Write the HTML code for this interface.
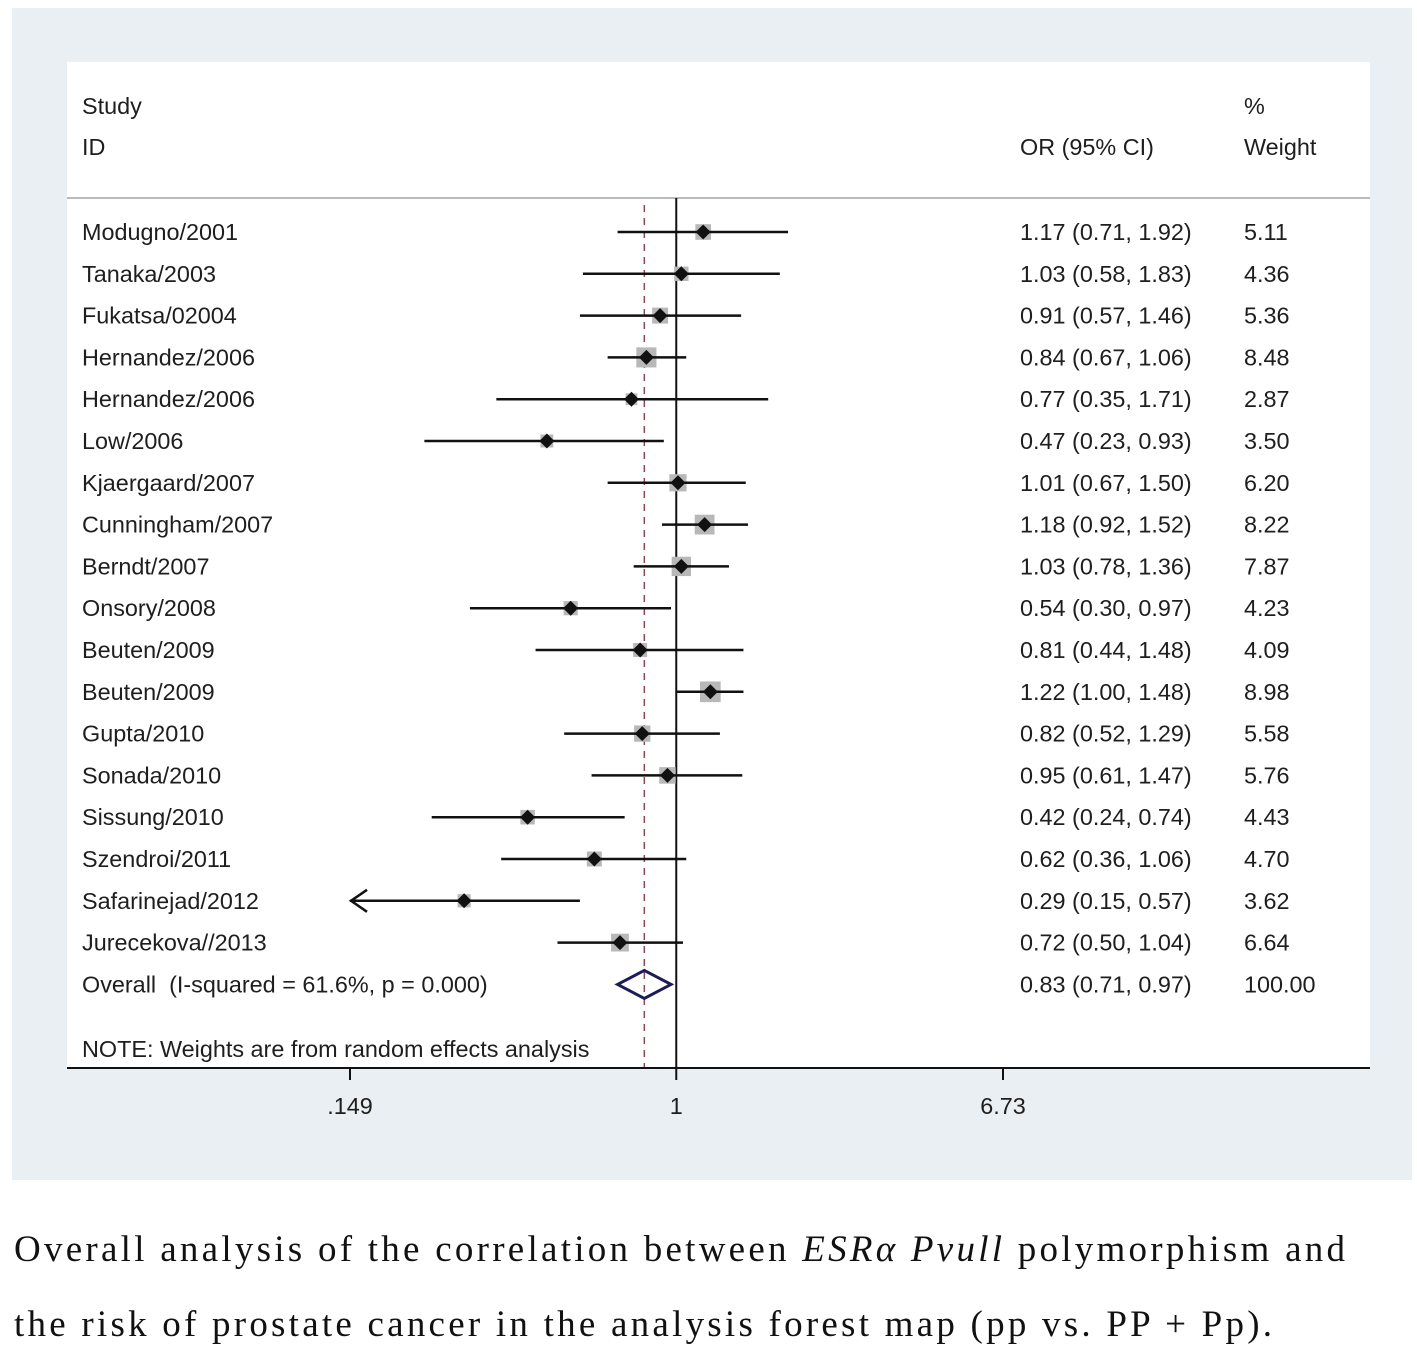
<!DOCTYPE html>
<html><head><meta charset="utf-8"><style>
html,body{margin:0;padding:0;background:#fff}
svg{display:block}
text{font-family:"Liberation Sans",Arial,sans-serif;font-size:23.4px;fill:#1e1e1e}
.cap{font-family:"Liberation Serif","Times New Roman",serif;font-size:37px;fill:#111}
</style></head><body>
<svg id="chart" width="1417" height="1357" viewBox="0 0 1417 1357">
<rect x="12" y="8" width="1400" height="1172" fill="#e9eff2"/>
<rect x="67" y="62" width="1303" height="1006" fill="#fff"/>
<text x="82" y="114">Study</text>
<text x="82" y="155">ID</text>
<text x="1020" y="155">OR (95% CI)</text>
<text x="1244" y="114">%</text>
<text x="1244" y="155">Weight</text>
<line x1="67" y1="198" x2="1370" y2="198" stroke="#bbb" stroke-width="2"/>
<g id="marks"></g>
<line x1="67" y1="1068" x2="1370" y2="1068" stroke="#111" stroke-width="2"/>
<g id="ticks"></g>
<text x="82" y="1057">NOTE: Weights are from random effects analysis</text>
<text class="cap" x="14" y="1261" textLength="1331" lengthAdjust="spacing">Overall analysis of the correlation between <tspan font-style="italic">ESRα Pvull</tspan> polymorphism and</text>
<text class="cap" x="14" y="1336" textLength="1258" lengthAdjust="spacing">the risk of prostate cancer in the analysis forest map (pp vs. PP + Pp).</text>
</svg>
<script>
const studies=["Modugno/2001","Tanaka/2003","Fukatsa/02004","Hernandez/2006","Hernandez/2006","Low/2006","Kjaergaard/2007","Cunningham/2007","Berndt/2007","Onsory/2008","Beuten/2009","Beuten/2009","Gupta/2010","Sonada/2010","Sissung/2010","Szendroi/2011","Safarinejad/2012","Jurecekova//2013"];
const orVals=[1.17,1.03,0.91,0.84,0.77,0.47,1.01,1.18,1.03,0.54,0.81,1.22,0.82,0.95,0.42,0.62,0.29,0.72];
const lowVals=[0.71,0.58,0.57,0.67,0.35,0.23,0.67,0.92,0.78,0.30,0.44,1.00,0.52,0.61,0.24,0.36,0.15,0.50];
const highVals=[1.92,1.83,1.46,1.06,1.71,0.93,1.50,1.52,1.36,0.97,1.48,1.48,1.29,1.47,0.74,1.06,0.57,1.04];
const weights=[5.11,4.36,5.36,8.48,2.87,3.50,6.20,8.22,7.87,4.23,4.09,8.98,5.58,5.76,4.43,4.70,3.62,6.64];
const overall=[0.83,0.71,0.97,100.00];
const tickVals=[0.149,1,6.73];
const tickLabels=[".149","1","6.73"];
const NS="http://www.w3.org/2000/svg";
const xMin=0.149,xMax=6.73,pxMin=350,pxMax=1003;
function xs(v){return pxMin+(Math.log(v)-Math.log(xMin))/(Math.log(xMax)-Math.log(xMin))*(pxMax-pxMin);}
function ys(i){return 232+i*41.8;}
function mk(tag,at,parent){const e=document.createElementNS(NS,tag);for(const k in at)e.setAttribute(k,at[k]);parent.appendChild(e);return e;}
const g=document.getElementById('marks');
const svg=document.getElementById('chart');
let l=mk('line',{x1:xs(1),y1:198,x2:xs(1),y2:1068,stroke:'#111','stroke-width':2},g);


l=mk('line',{x1:xs(overall[0]),y1:205,x2:xs(overall[0]),y2:1068,stroke:'#8a4a55','stroke-width':1.5,'stroke-dasharray':'7,6'},g);


studies.forEach((s,i)=>{
  const y=ys(i);
  let t=mk('text',{x:82,y:y+8},svg);t.textContent=s;
  
  
  t=mk('text',{x:1020,y:y+8},svg);t.textContent=orVals[i].toFixed(2)+" ("+lowVals[i].toFixed(2)+", "+highVals[i].toFixed(2)+")";
  
  
  t=mk('text',{x:1244,y:y+8},svg);t.textContent=weights[i].toFixed(2);
  
  
  const side=6.9*Math.sqrt(weights[i]);
  const cx=xs(orVals[i]);
  const sq=mk('rect',{x:cx-side/2,y:y-side/2,width:side,height:side,fill:'#b8b8b8'},g);
  
  
  let x1=xs(lowVals[i]),clipped=false;
  if(x1<pxMin+5){x1=pxMin;clipped=true;}
  const ci=mk('line',{x1:x1,y1:y,x2:xs(highVals[i]),y2:y,stroke:'#111','stroke-width':2.5},g);
  
  
  if(clipped){
    const a=mk('path',{d:`M${x1+17},${y-11} L${x1+1},${y} L${x1+17},${y+11}`,fill:'none',stroke:'#111','stroke-width':2.5},g);
    
    
  }
  const d=mk('path',{d:`M${cx-7.5},${y} L${cx},${y-7.5} L${cx+7.5},${y} L${cx},${y+7.5}Z`,fill:'#111'},g);
  
  
});
const oy=ys(18);
let t=mk('text',{x:82,y:oy+8},svg);t.textContent="Overall\u00a0\u00a0(I-squared = 61.6%, p = 0.000)";


t=mk('text',{x:1020,y:oy+8},svg);t.textContent=overall[0].toFixed(2)+" ("+overall[1].toFixed(2)+", "+overall[2].toFixed(2)+")";


t=mk('text',{x:1244,y:oy+8},svg);t.textContent=overall[3].toFixed(2);


const dm=mk('path',{d:`M${xs(overall[1])},${oy} L${xs(overall[0])},${oy-14} L${xs(overall[2])},${oy} L${xs(overall[0])},${oy+14}Z`,fill:'none',stroke:'#1c1c5a','stroke-width':3},g);


const tg=document.getElementById('ticks');
tickVals.forEach((v,i)=>{
  const x=xs(v);
  const tk=mk('line',{x1:x,y1:1068,x2:x,y2:1080,stroke:'#111','stroke-width':2},tg);
  
  
  const lb=mk('text',{x:x,y:1114,'text-anchor':'middle'},tg);lb.textContent=tickLabels[i];
  
  
});
</script>
</body></html>
